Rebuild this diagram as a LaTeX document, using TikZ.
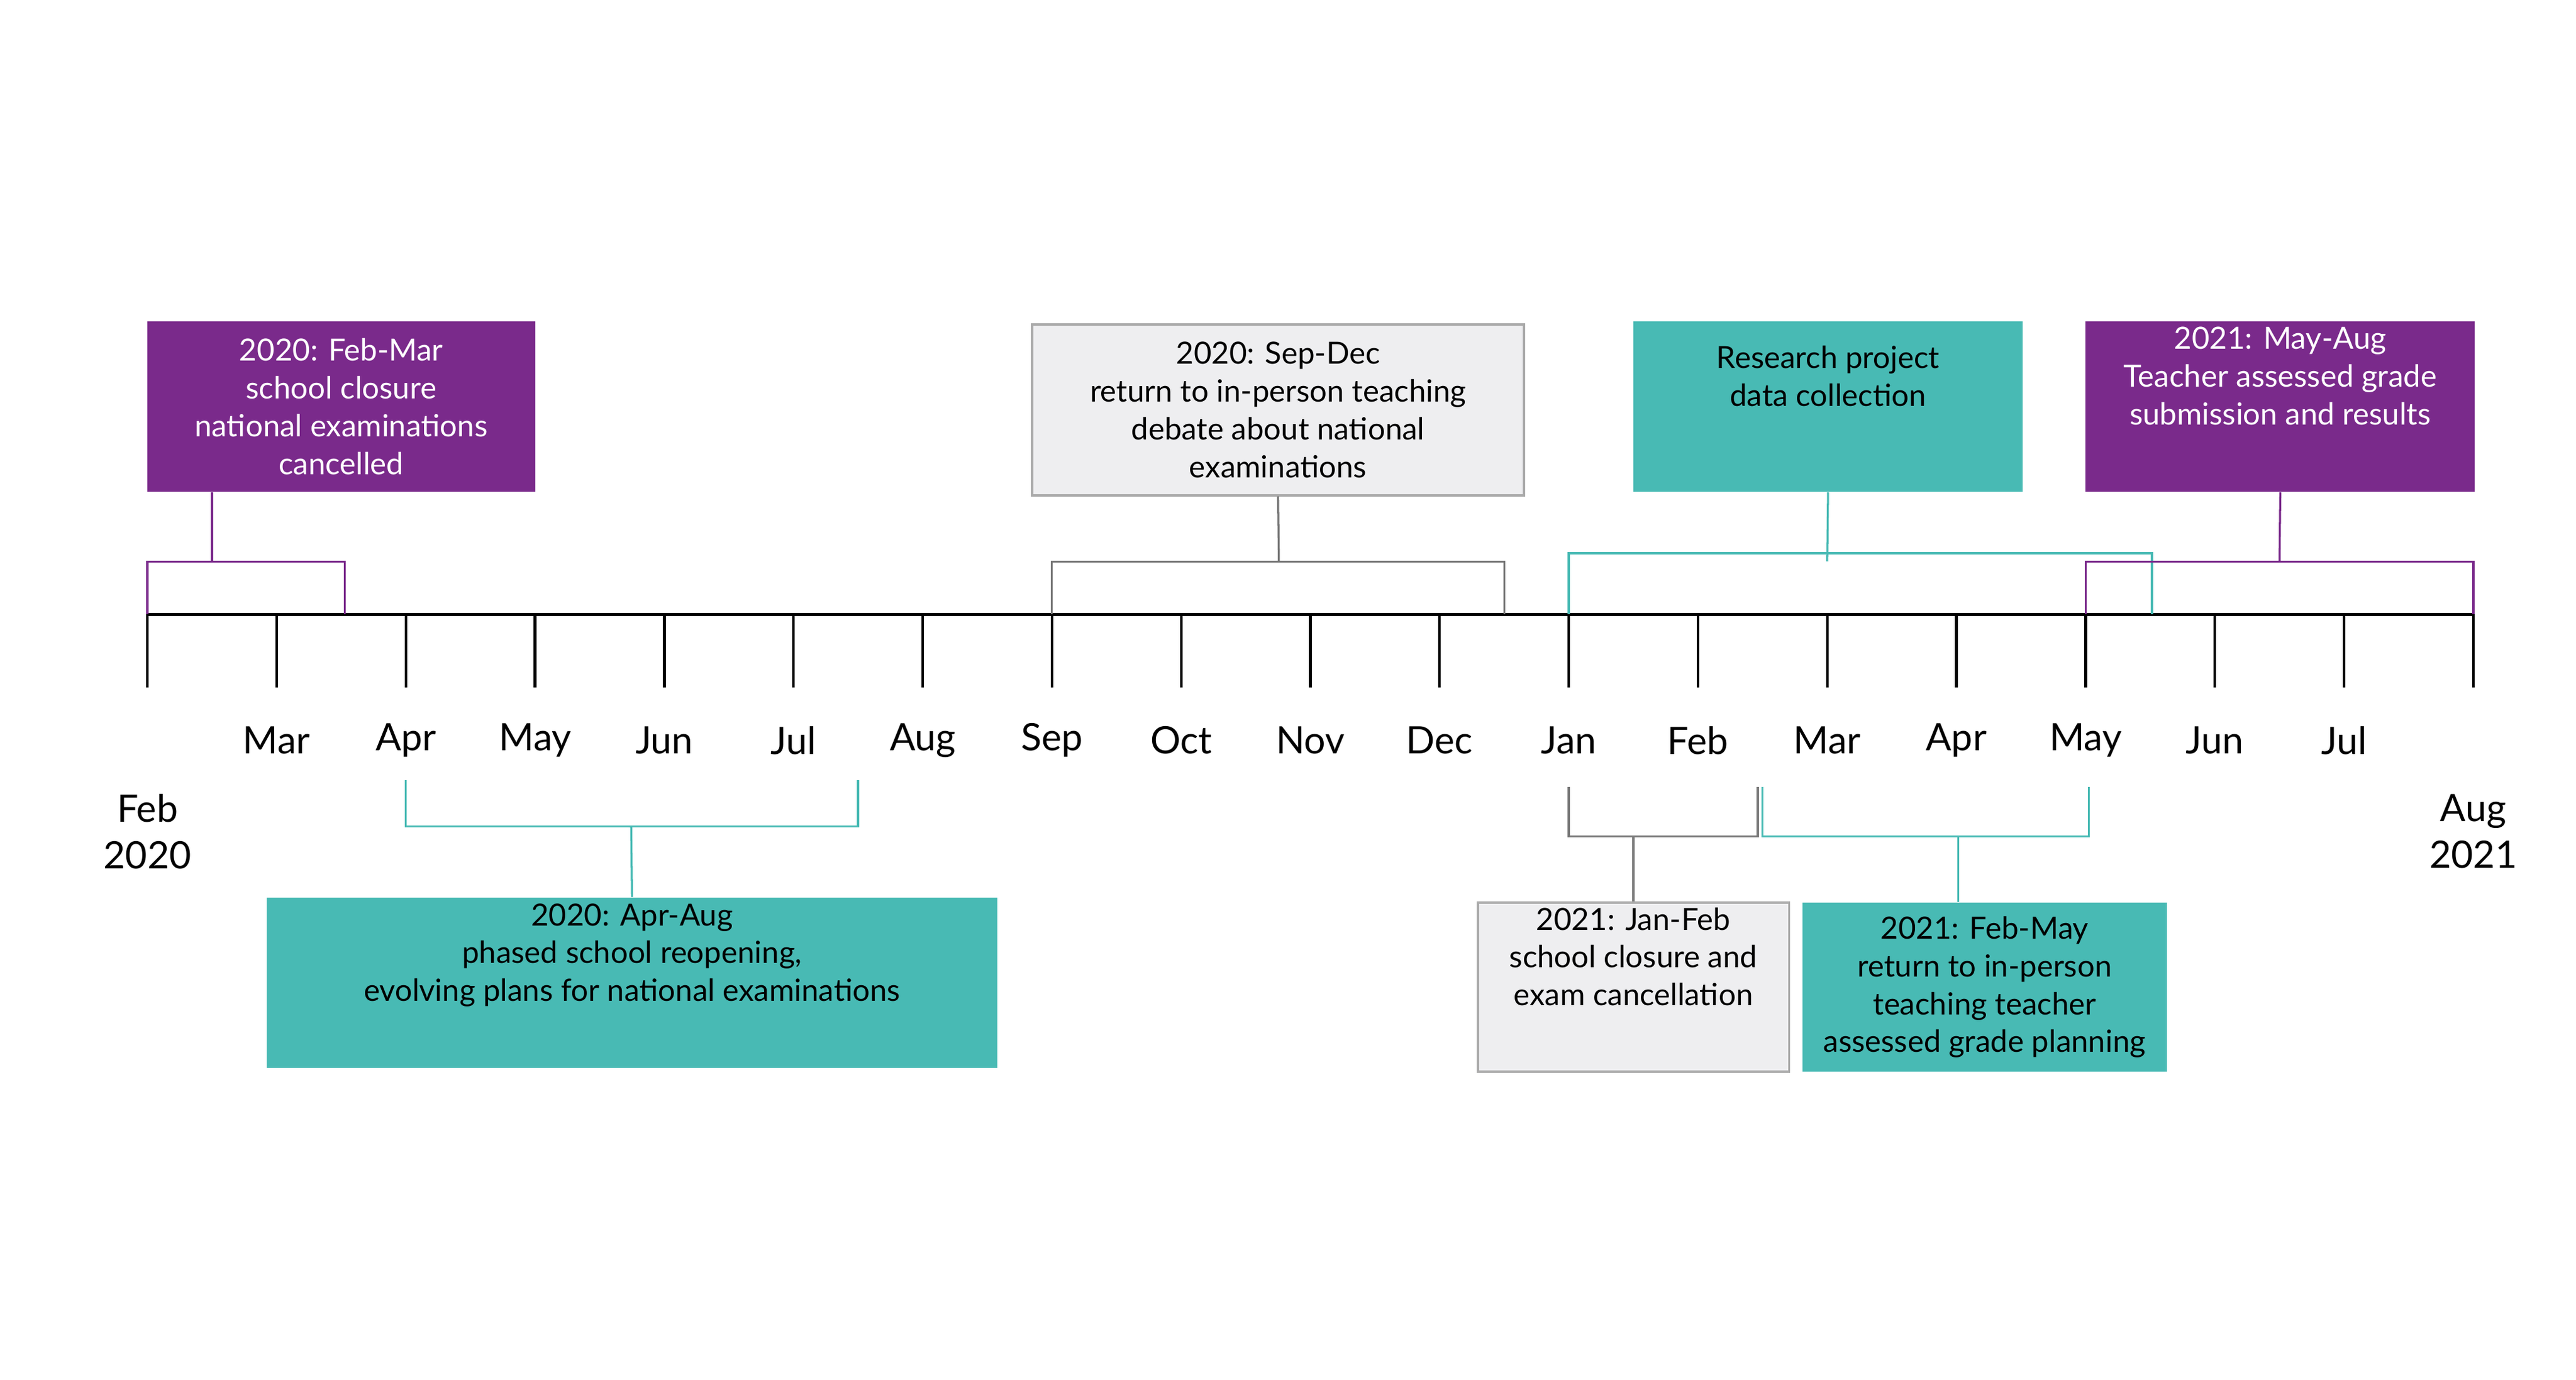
\documentclass[tikz,border=0pt]{standalone}
\usepackage{fontspec}
\setmainfont{Lato}
\usetikzlibrary{positioning}
\definecolor{cpurple}{RGB}{122,42,139}
\definecolor{cteal}{RGB}{72,186,180}
\definecolor{cgrayfill}{RGB}{238,238,240}
\definecolor{cgrayline}{RGB}{170,170,170}
\definecolor{cgraylink}{RGB}{120,120,120}
\tikzset{
  purplebox/.style={fill=cpurple,text=white,align=center,font=\fontsize{10.5}{13}\selectfont,inner sep=0pt},
  tealbox/.style={fill=cteal,text=black,align=center,font=\fontsize{10.5}{13}\selectfont,inner sep=0pt},
  graybox/.style={fill=cgrayfill,draw=cgrayline,line width=0.8pt,text=black,align=center,font=\fontsize{10.5}{13}\selectfont,inner sep=0pt},
  month/.style={font=\fontsize{13}{16}\selectfont,align=center},
  plink/.style={cpurple,line width=0.7pt},
  tlink/.style={cteal,line width=0.7pt},
  glink/.style={cgraylink,line width=0.7pt},
}
\begin{document}
\begin{tikzpicture}[x=0.02cm,y=-0.02cm]
%
\useasboundingbox (0,0) rectangle (1555,833);
%
% timeline and ticks
\foreach \i in {0,...,18}
  \coordinate (t\i) at ({89+78*\i},371);
\draw[line width=0.9pt] (t0) -- (t18);
\foreach \i in {0,...,18}
  \draw[line width=0.9pt] (t\i) -- ++(0,44);
%
\foreach \i/\m in {1/Mar,2/Apr,3/May,4/Jun,5/Jul,6/Aug,7/Sep,8/Oct,9/Nov,10/Dec,11/Jan,12/Feb,13/Mar,14/Apr,15/May,16/Jun,17/Jul}
  \node[month] (m\i) at ({89+78*\i},447) {\m};
\node[month] (m0) at (89,502) {Feb\\2020};
\node[month] (m18) at (1493,502) {Aug\\2021};
%
% boxes
\node[purplebox,minimum width=4.68cm,minimum height=2.06cm] (feb) at (206,245.5)
  {2020: Feb-Mar\\school closure\\national examinations\\cancelled};
\node[graybox,minimum width=5.94cm,minimum height=2.06cm] (sep) at (771.5,247.5)
  {2020: Sep-Dec\\return to in-person teaching\\debate about national\\examinations};
\node[tealbox,minimum width=4.7cm,minimum height=2.06cm] (res) at (1103.5,245.5)
  {Research project\\data collection\\[8pt]};
\node[purplebox,minimum width=4.7cm,minimum height=2.06cm] (may) at (1376.5,245.5)
  {2021: May-Aug\\Teacher assessed grade\\submission and results\\[8pt]};
\node[tealbox,minimum width=8.82cm,minimum height=2.06cm] (apr) at (381.5,593.5)
  {2020: Apr-Aug\\phased school reopening,\\evolving plans for national examinations\\[8pt]};
\node[graybox,minimum width=3.76cm,minimum height=2.04cm] (jan) at (986,596)
  {2021: Jan-Feb\\school closure and\\exam cancellation\\[8pt]};
\node[tealbox,minimum width=4.4cm,minimum height=2.04cm] (fmay) at (1198,596)
  {2021: Feb-May\\return to in-person\\teaching teacher\\assessed grade planning};
%
% brackets
\coordinate (b1) at (128,339);
\draw[plink] (feb.south -| b1) -- (b1);
\draw[plink] (t0) -- (89,339) -- (208,339) -- (208,371);
\draw[glink] (sep.south) -- (772,339);
\draw[glink] (t7) -- (635,339) -- (908,339) -- (908,371);
\draw[tlink] (res.south) -- (1103,339);
\draw[tlink] (t11) -- (947,334) -- (1299,334) -- (1299,371);
\draw[plink] (may.south) -- (1376,339);
\draw[plink] (t15) -- (1259,339) -- (1493,339) -- (t18);
\draw[tlink] (245,471) -- (245,499) -- (518,499) -- (518,471);
\draw[tlink] (apr.north) -- (381,499);
\draw[glink] (947,475) -- (947,505) -- (1061,505) -- (1061,475);
\draw[glink] (jan.north) -- (986,505);
\draw[tlink] (1064,475) -- (1064,505) -- (1261,505) -- (1261,475);
\coordinate (b7) at (1182,505);
\draw[tlink] (fmay.north -| b7) -- (b7);
%
\end{tikzpicture}
\end{document}
